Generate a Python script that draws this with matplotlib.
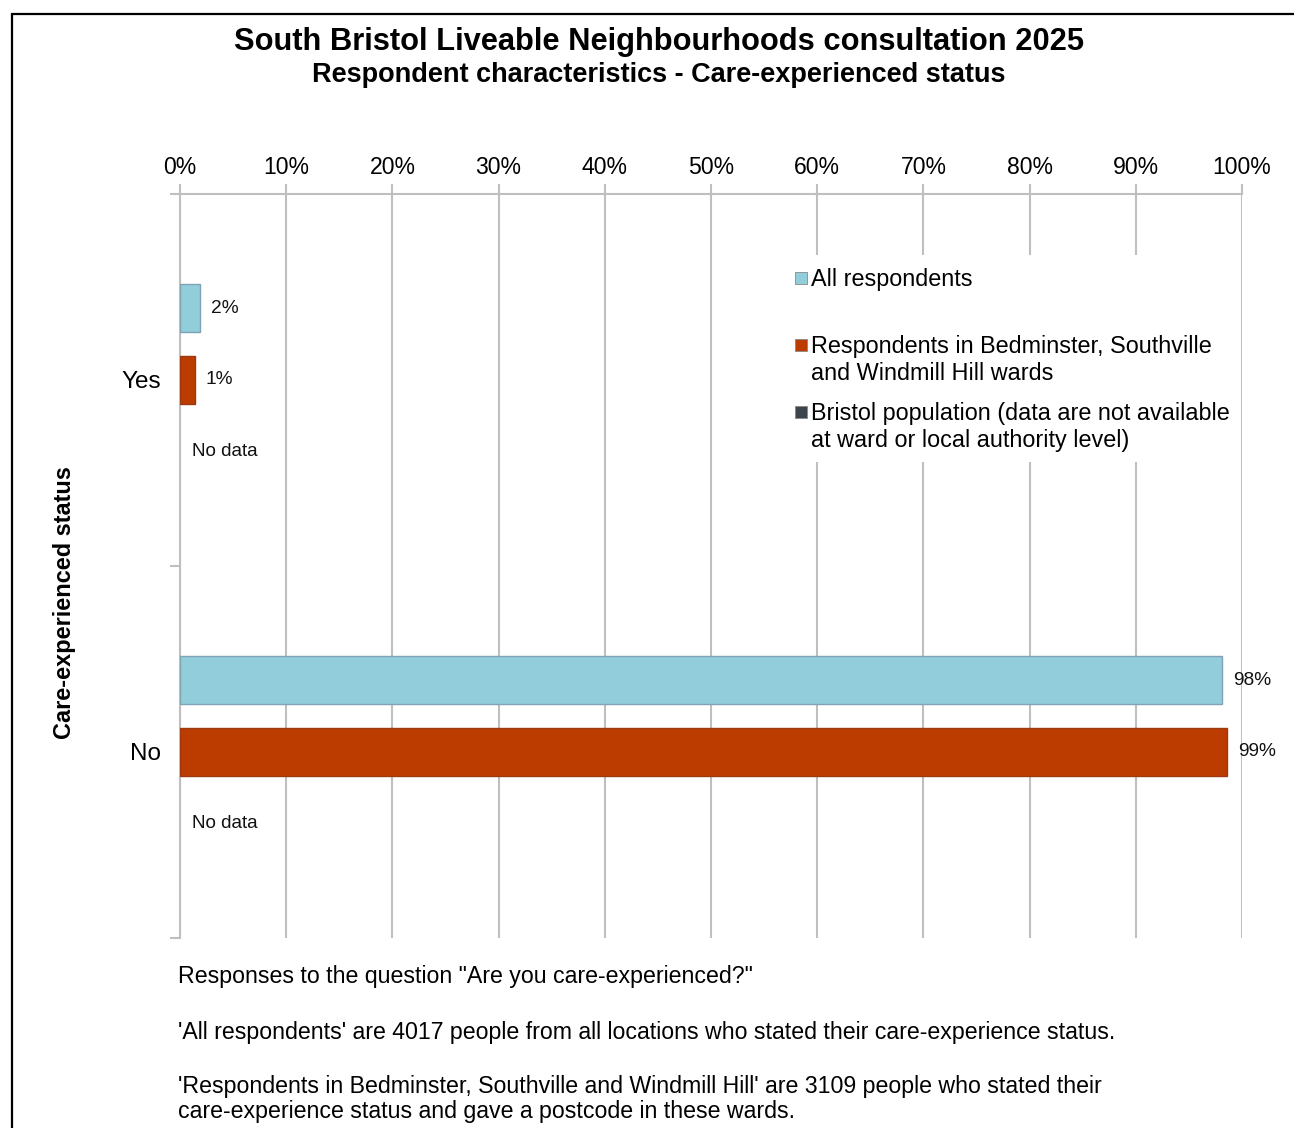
import numpy as np
import matplotlib.pyplot as plt
from matplotlib.patches import Rectangle

plt.rcParams['font.family'] = ['Liberation Sans', 'DejaVu Sans']

# data
categories = ['Yes', 'No']
all_respondents = [1.9, 98.1]
bedminster = [1.4, 98.6]
bristol_population = [np.nan, np.nan]   # no data

series_names = ['All respondents',
                'Respondents in Bedminster, Southville\nand Windmill Hill wards',
                'Bristol population (data are not available\nat ward or local authority level)']
series_colors = ['#92CDDC', '#BC3C00', '#3E444C']
edge_colors = ['#7FA3B3', '#9A3A10', '#333333']
xticks = list(range(0, 101, 10))

footnotes = [
    'Responses to the question "Are you care-experienced?"',
    "'All respondents' are 4017 people from all locations who stated their care-experience status.",
    "'Respondents in Bedminster, Southville and Windmill Hill' are 3109 people who stated their\n"
    "care-experience status and gave a postcode in these wards.",
]

W, H = 1294, 1128


def fx(x):
    return x / W


def fy(y):
    return 1 - y / H


fig = plt.figure(figsize=(W / 100, H / 100), dpi=100)
ax = fig.add_axes([fx(180), fy(938), fx(1242) - fx(180), fy(194) - fy(938)])

grey = '#BFBFBF'
y = np.arange(len(categories))
offsets = [-0.1935, 0.0, 0.1935]
bar_h = 0.129

all_series = [all_respondents, bedminster, bristol_population]
for vals, off, col, ec in zip(all_series, offsets, series_colors, edge_colors):
    for yi, v in zip(y, vals):
        if np.isnan(v):
            ax.annotate('No data', (0, yi + off), xytext=(9, 0), textcoords='offset points',
                        va='center', ha='left', fontsize=13.6, color='#111111')
        else:
            ax.barh(yi + off, v, height=bar_h, color=col, edgecolor=ec, linewidth=1, zorder=3)
            ax.annotate('%d%%' % round(v), (v, yi + off), xytext=(8, 0), textcoords='offset points',
                        va='center', ha='left', fontsize=13.8, color='#111111')

ax.set_xlim(0, 100)
ax.set_ylim(len(categories) - 0.5, -0.5)
ax.xaxis.tick_top()
ax.set_xticks(xticks)
ax.set_xticklabels(['%d%%' % t for t in xticks])
ax.tick_params(axis='x', length=7, width=1.5, color=grey, pad=3.5, labelsize=16.6)
ax.set_yticks(y)
ax.set_yticklabels(categories)
ax.set_yticks([-0.5, 0.5, 1.5], minor=True)
ax.tick_params(axis='y', which='major', length=0, pad=14, labelsize=17.5)
ax.tick_params(axis='y', which='minor', length=7, width=1.5, color=grey)
ax.xaxis.grid(True, color=grey, linewidth=1.5)
ax.set_axisbelow(True)
for s in ['right', 'bottom']:
    ax.spines[s].set_visible(False)
for s in ['top', 'left']:
    ax.spines[s].set_color(grey)
    ax.spines[s].set_linewidth(1.5)

# y label
fig.text(fx(65), fy(603), 'Care-experienced status', rotation=90, ha='center', va='center',
         fontsize=16.9, fontweight='bold')

# titles
fig.text(fx(659), fy(42), 'South Bristol Liveable Neighbourhoods consultation 2025',
         ha='center', va='center', fontsize=22.2, fontweight='bold')
fig.text(fx(659), fy(75), 'Respondent characteristics - Care-experienced status',
         ha='center', va='center', fontsize=19.5, fontweight='bold')

# legend drawn by hand so the swatch sits on the first line
fig.patches.append(Rectangle((fx(785), fy(462)), fx(1237) - fx(785), fy(255) - fy(462),
                             transform=fig.transFigure, facecolor='white', edgecolor='none', zorder=1))
for i, (name, col) in enumerate(zip(series_names, series_colors)):
    ly = 278 + 67 * i
    fig.patches.append(Rectangle((fx(795), fy(ly + 6)), fx(12), 12 / H, transform=fig.transFigure,
                                 facecolor=col, edgecolor='#888888', linewidth=0.6, zorder=2))
    fig.text(fx(811), fy(ly - 10), name, ha='left', va='top', fontsize=16.8,
             linespacing=1.22, zorder=2)

# notes
fig.text(fx(178), fy(977), footnotes[0], ha='left', va='center', fontsize=16.7)
fig.text(fx(178), fy(1032), footnotes[1], ha='left', va='center', fontsize=16.7)
fig.text(fx(178), fy(1099), footnotes[2], ha='left', va='center', fontsize=16.7, linespacing=1.14)

# outer frame
fig.patches.append(Rectangle((fx(12), -0.1), 1.2, fy(14) + 0.1, transform=fig.transFigure,
                             fill=False, edgecolor='black', linewidth=1.6))

fig.savefig('out.png', dpi=100)
